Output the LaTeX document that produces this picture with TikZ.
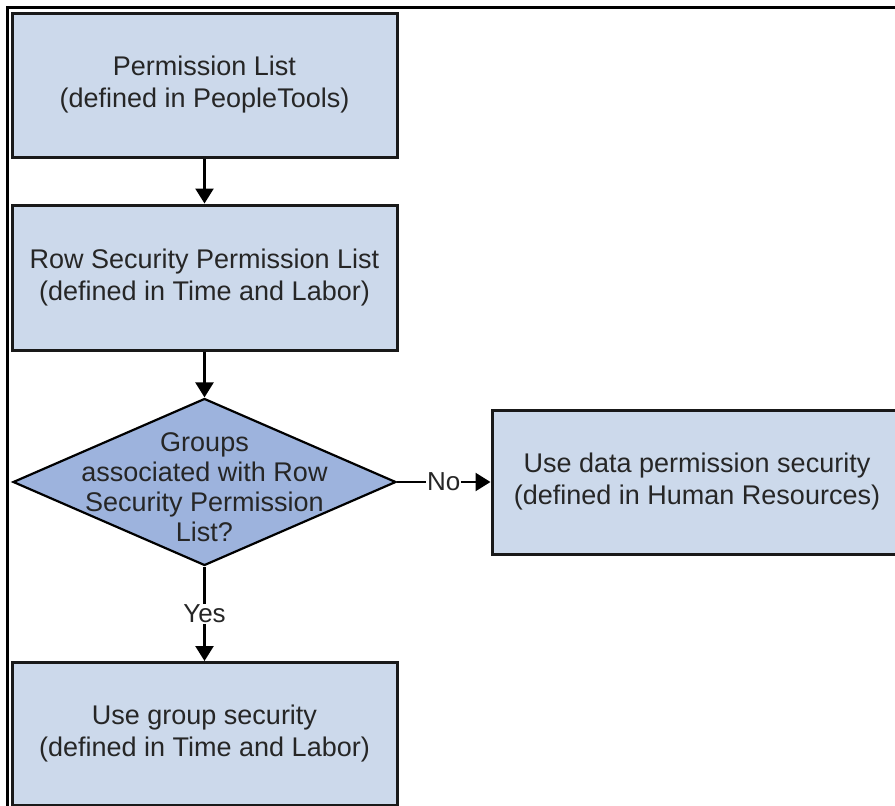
\documentclass[tikz,border=0pt]{standalone}
\usepackage{fontspec}
\setmainfont{Liberation Sans}
\usetikzlibrary{shapes,arrows.meta}
\definecolor{boxblue}{RGB}{204,217,235}
\definecolor{diablue}{RGB}{157,179,221}

\begin{document}
\begin{tikzpicture}[x=1pt,y=-1pt,
		box/.style={rectangle,draw=black!90,line width=3pt,fill=boxblue,inner sep=0pt,align=center,text=black!85,font=\fontsize{27}{32}\selectfont},
		txt/.style={align=center,text=black!85,font=\fontsize{27}{30}\selectfont},
		arr/.style={draw,line width=2.4pt,-{Triangle[length=15pt,width=18pt]}},
		lbl/.style={fill=white,inner sep=1pt,text=black!85,font=\fontsize{26}{30}\selectfont}]
			\useasboundingbox (0,0) rectangle (895,806);
			\draw[line width=3pt] (7,806) -- (7,7) -- (895,7);
			
			\node[box,minimum width=385pt,minimum height=144pt] (perm) at (204.5,85) {Permission List\\(defined in PeopleTools)};
			\node[box,minimum width=385pt,minimum height=145pt] (rowsec) at (204.5,277.5) {Row Security Permission List\\(defined in Time and Labor)};
			\node[diamond,draw=black,line width=2.2pt,fill=diablue,minimum width=383pt,minimum height=167pt,inner sep=0pt] (groups) at (204.5,482) {};
			\node[txt] (groupstext) at (204.5,487) {Groups\\associated with Row\\Security Permission\\List?};
			\node[box,minimum width=410pt,minimum height=144pt] (datasec) at (697,482) {Use data permission security\\(defined in Human Resources)};
			\node[box,minimum width=385pt,minimum height=143pt] (grpsec) at (204.5,734) {Use group security\\(defined in Time and Labor)};
			
			\path[arr] (perm) -- (rowsec);
			\path[arr] (rowsec) -- (groups);
			\path[arr] (groups.east) -- node[midway,lbl] {No} (datasec.west);
			\path[arr] (groups.south) -- node[midway,lbl] {Yes} (grpsec.north);
		\end{tikzpicture}
\end{document}
